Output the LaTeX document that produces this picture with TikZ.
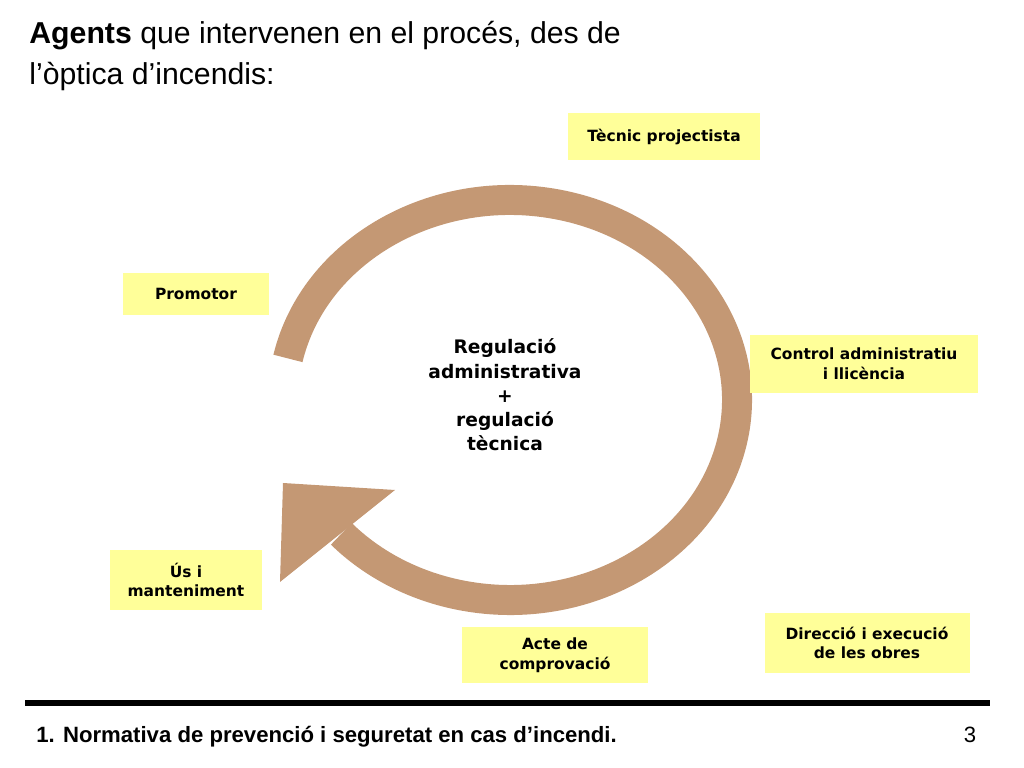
\documentclass[tikz,border=0pt]{standalone}
\usepackage{fontspec}
\setmainfont{Liberation Sans}
\newfontfamily\verd{DejaVu Sans}
\usetikzlibrary{positioning}
\definecolor{cycbrown}{RGB}{196,152,116}
\definecolor{agentyel}{RGB}{255,255,153}
\tikzset{
agent/.style={fill=agentyel, font=\verd\bfseries\fontsize{4.4}{5.6}\selectfont, align=center, inner sep=0pt},
}
\begin{document}
\begin{tikzpicture}
    \useasboundingbox (0,0) rectangle (10.24,7.68);

    %title
    \node[anchor=west, align=left, font=\fontsize{8.6}{11.6}\selectfont] (title) at (0.17,7.12)
        {\textbf{Agents} que intervenen en el procés, des de\\l’òptica d’incendis:};

    %cycle
    \draw[cycbrown, line width=0.30cm] (5.10,3.68) ++(168:2.27 and 2.00)
        arc[start angle=168, end angle=-138, x radius=2.27, y radius=2.00] coordinate (tipbase);
    \fill[cycbrown] (3.95,2.78) -- (2.83,2.85) -- (2.80,1.86) -- cycle;

    \node[align=center, font=\verd\bfseries\fontsize{5.3}{6.9}\selectfont] (reg) at (5.05,3.73)
        {Regulació\\administrativa\\+\\regulació\\tècnica};

    %agents
    \node[agent, minimum width=1.92cm, minimum height=0.47cm] (tec) at (6.64,6.31) {Tècnic projectista};
    \node[agent, minimum width=1.46cm, minimum height=0.42cm] (prom) at (1.96,4.74) {Promotor};
    \node[agent, minimum width=2.28cm, minimum height=0.58cm] (ctrl) at (8.64,4.04) {Control administratiu\\i llicència};
    \node[agent, minimum width=1.52cm, minimum height=0.60cm] (us) at (1.86,1.88) {Ús i\\manteniment};
    \node[agent, minimum width=1.86cm, minimum height=0.56cm] (acte) at (5.55,1.13) {Acte de\\comprovació};
    \node[agent, minimum width=2.05cm, minimum height=0.60cm] (dir) at (8.67,1.25) {Direcció i execució\\de les obres};

    %footer
    \draw[line width=0.06cm] (0.25,0.65) -- (9.90,0.65);
    \node[anchor=west, font=\bfseries\fontsize{6.3}{7.5}\selectfont] (foot) at (0.24,0.31)
        {1. Normativa de prevenció i seguretat en cas d’incendi.};
    \node[font=\fontsize{6.3}{7.5}\selectfont] (page) at (9.70,0.33) {3};
\end{tikzpicture}
\end{document}
